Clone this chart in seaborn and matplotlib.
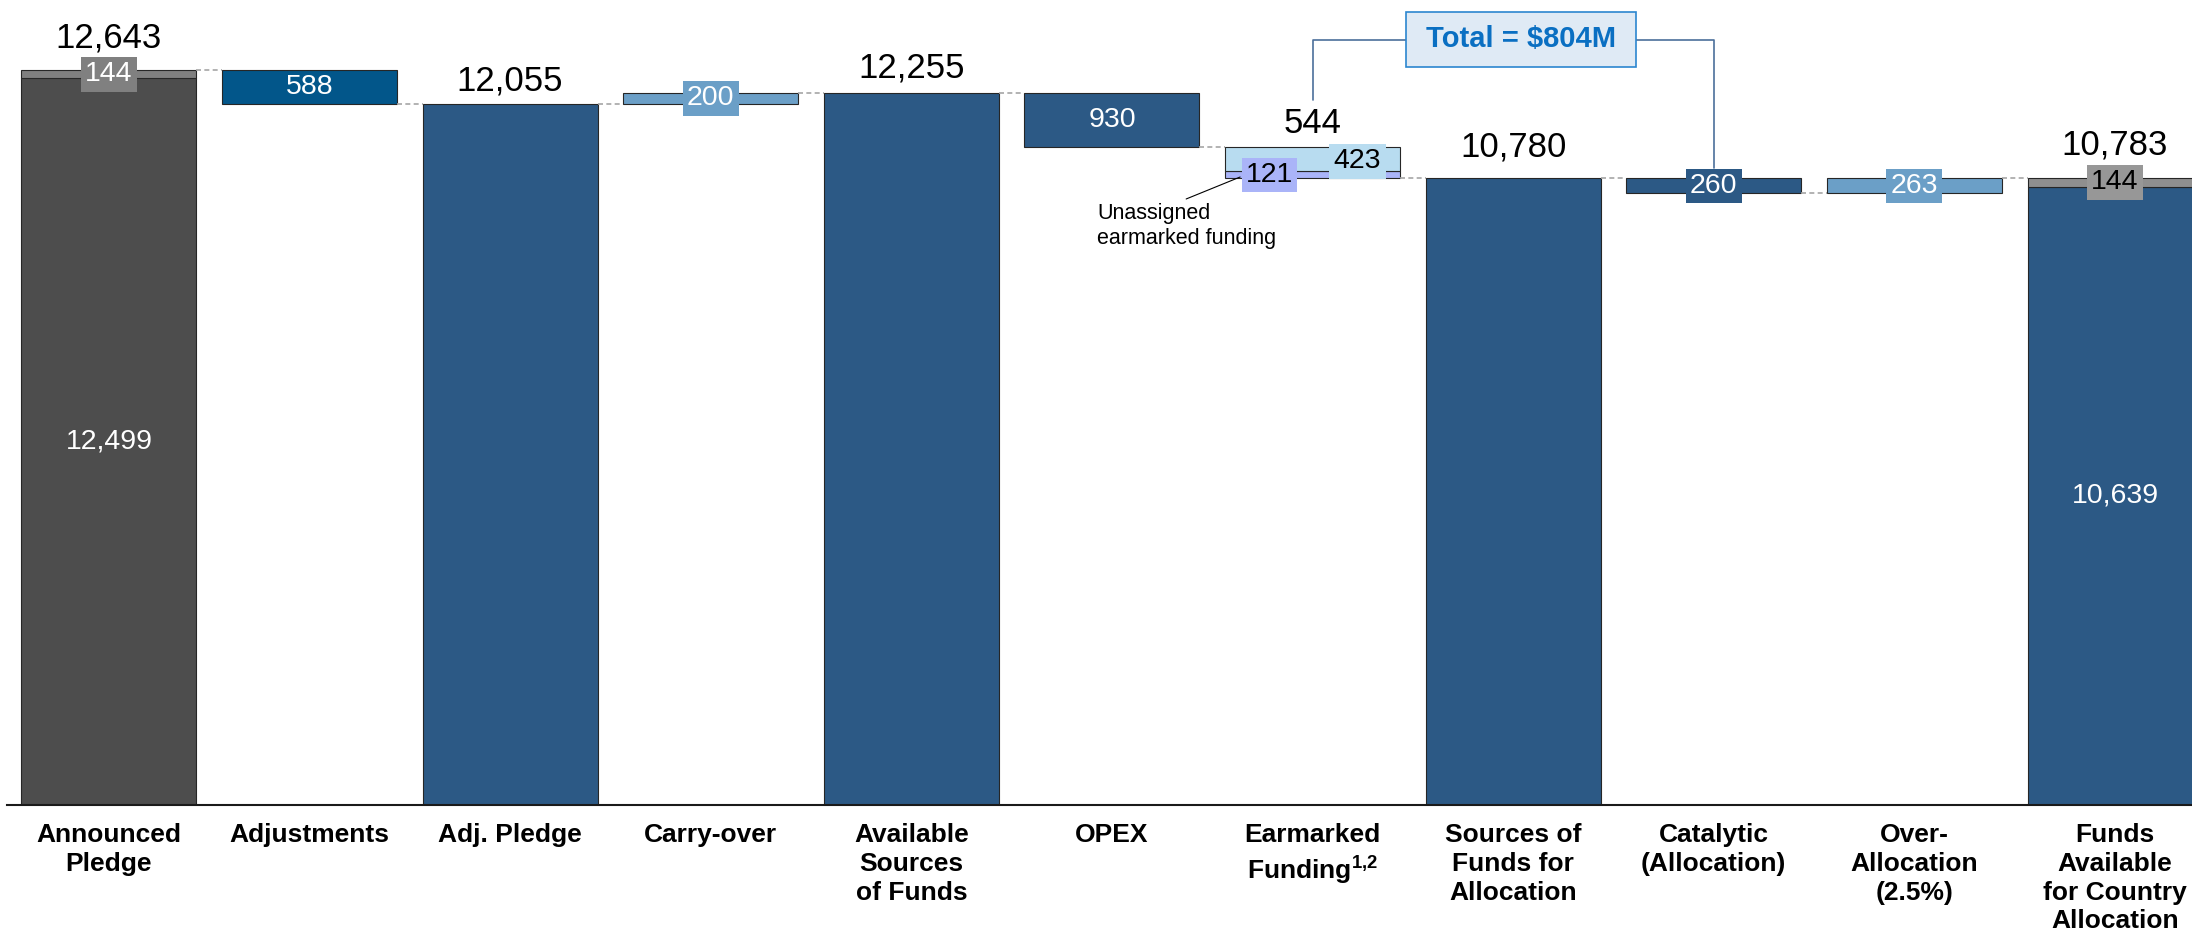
import pandas as pd
import matplotlib
matplotlib.use("Agg")
import matplotlib.pyplot as plt
from matplotlib.patches import Rectangle
import seaborn as sns

sns.set_theme(style="white")
plt.rcParams["font.family"] = ["Liberation Sans", "DejaVu Sans"]
plt.rcParams["mathtext.fontset"] = "custom"
plt.rcParams["mathtext.rm"] = "Liberation Sans"
plt.rcParams["mathtext.bf"] = "Liberation Sans:bold"

# -----------------------------
# DATA ($M)
# -----------------------------

steps = ["Announced Pledge", "Adjustments", "Adj. Pledge", "Carry-over",
         "Available Sources of Funds", "OPEX", "Earmarked Funding",
         "Sources of Funds for Allocation", "Catalytic (Allocation)",
         "Over-Allocation (2.5%)", "Funds Available for Country Allocation"]
tick_labels = ["Announced\nPledge", "Adjustments", "Adj. Pledge", "Carry-over",
               "Available\nSources\nof Funds", "OPEX",
               "Earmarked\nFunding$^{\\mathbf{1{,}2}}$",
               "Sources of\nFunds for\nAllocation", "Catalytic\n(Allocation)",
               "Over-\nAllocation\n(2.5%)", "Funds\nAvailable\nfor Country\nAllocation"]
step_kind = ["total", "down", "total", "up", "total", "down", "down",
             "total", "down", "up", "total"]

# lower segment of each bar
bar_bottom = [0, 12055, 0, 12055, 0, 11325, 10780, 0, 10520, 10520, 0]
bar_value = [12499, 588, 12055, 200, 12255, 930, 121, 10780, 260, 263, 10639]

# stacked upper segments
top_steps = ["Announced Pledge", "Earmarked Funding",
             "Funds Available for Country Allocation"]
top_value = [144, 423, 144]

# big labels above bars
sum_steps = ["Announced Pledge", "Adj. Pledge", "Available Sources of Funds",
             "Earmarked Funding", "Sources of Funds for Allocation",
             "Funds Available for Country Allocation"]
sum_value = [12643, 12055, 12255, 544, 10780, 10783]

total_text = "Total = $804M"

# -----------------------------
# STYLE
# -----------------------------

DARK_BLUE = "#2c5985"
MID_BLUE = "#6b9fc7"
base_colors = ["#4d4d4d", "#02568a", DARK_BLUE, MID_BLUE, DARK_BLUE, DARK_BLUE,
               "#aab4f8", DARK_BLUE, DARK_BLUE, MID_BLUE, DARK_BLUE]
top_colors = ["#7f7f7f", "#b8dcf0", "#8f8f8f"]
W = 0.872
EDGE = "#262626"

base_df = pd.DataFrame({"step": steps, "value": bar_value, "bottom": bar_bottom})
top_bottom = [bar_bottom[steps.index(s)] + bar_value[steps.index(s)] for s in top_steps]
top_df = pd.DataFrame({"step": top_steps, "value": top_value, "bottom": top_bottom})

fig = plt.figure(figsize=(21.92, 9.40), dpi=100)
ax = fig.add_axes([7 / 2192, 135 / 940, 1 - 7 / 2192, 805 / 940])

sns.barplot(data=base_df, x="step", y="value", order=steps,
            bottom=base_df["bottom"].to_numpy(), width=W, errorbar=None,
            saturation=1, color=DARK_BLUE, edgecolor=EDGE, linewidth=0.8, ax=ax)
for p, c in zip(ax.patches, base_colors):
    p.set_facecolor(c)

n_before = len(ax.patches)
sns.barplot(data=top_df, x="step", y="value", order=steps,
            bottom=top_df["bottom"].to_numpy(), width=W, errorbar=None,
            saturation=1, color=DARK_BLUE, edgecolor=EDGE, linewidth=0.8, ax=ax)
for p, c in zip(ax.patches[n_before:], top_colors):
    p.set_facecolor(c)

# full height of every bar
full_top = [b + v for b, v in zip(bar_bottom, bar_value)]
for s, v in zip(top_steps, top_value):
    full_top[steps.index(s)] += v

# dashed connectors
for i in range(len(steps) - 1):
    lvl = bar_bottom[i] if step_kind[i] == "down" else full_top[i]
    ax.plot([i + W / 2, i + 1 - W / 2], [lvl, lvl], color="#a6a6a6",
            lw=1.2, ls=(0, (3, 2)), zorder=1)

# labels above bars
sum_offset_px = [23, 14, 15, 14, 22, 24]
for s, v, off in zip(sum_steps, sum_value, sum_offset_px):
    i = steps.index(s)
    ax.annotate(f"{v:,}", xy=(i, full_top[i]), xytext=(0, off * 0.72),
                textcoords="offset points", ha="center", va="baseline",
                fontsize=25, color="black", zorder=5)

# inner labels
IN_FS = 20.5


def inner(i, y, text, color="white", box=None, dx=0.0):
    kw = {}
    if box is not None:
        kw["bbox"] = dict(boxstyle="square,pad=0.15", fc=box, ec="none")
    ax.text(i + dx, y, text, ha="center", va="center", fontsize=IN_FS,
            color=color, zorder=6, **kw)


box_for = {"Carry-over": MID_BLUE, "Over-Allocation (2.5%)": MID_BLUE,
           "Catalytic (Allocation)": DARK_BLUE}
for i, (b, v) in enumerate(zip(bar_bottom, bar_value)):
    # plain totals carry only the label above the bar
    if steps[i] == "Earmarked Funding":
        continue
    if step_kind[i] == "total" and steps[i] not in top_steps:
        continue
    inner(i, b + v / 2, f"{v:,}", box=box_for.get(steps[i]))

i_a = steps.index("Announced Pledge")
inner(i_a, top_bottom[0] + top_value[0] / 2, f"{top_value[0]:,}", box="#808080")
i_f = steps.index("Funds Available for Country Allocation")
inner(i_f, top_bottom[2] + top_value[2] / 2, f"{top_value[2]:,}",
      color="black", box="#979797")
i_e = steps.index("Earmarked Funding")
inner(i_e, bar_bottom[i_e] + bar_value[i_e] / 2, f"{bar_value[i_e]:,}",
      color="black", box="#aab4f8", dx=-0.215)
inner(i_e, top_bottom[1] + top_value[1] / 2 - 40, f"{top_value[1]:,}",
      color="black", box="#b8dcf0", dx=0.224)

# unassigned earmarked funding note
ax.plot([i_e - 0.361, i_e - 0.63], [10803, 10425], color="black", lw=0.8, zorder=4)
ax.text(i_e - 1.074, 9960, "Unassigned\nearmarked funding", ha="left",
        va="center", fontsize=15.5, linespacing=1.2, color="black")

# total bracket
i_c = steps.index("Catalytic (Allocation)")
BR = "#4c6f9b"
ax.plot([i_e, i_e, i_e + 0.467], [12128, 13160, 13160], color=BR, lw=1.2,
        clip_on=False, zorder=2)
ax.plot([i_e + 1.613, i_c, i_c], [13160, 13160, 10958], color=BR, lw=1.2,
        clip_on=False, zorder=2)
ax.add_patch(Rectangle((i_e + 0.467, 12696), 1.146, 946, facecolor="#dfeaf5",
                       edgecolor="#2b86cf", lw=1.2, clip_on=False, zorder=3))
ax.text(i_e + 1.04, 13169, total_text, ha="center", va="center", fontsize=21,
        fontweight="bold", color="#0a6fc2", zorder=4)

# axes
ax.set_xlim(-0.508, 10.384)
ax.set_ylim(0, 13848)
ax.set_yticks([])
ax.set_xlabel("")
ax.set_ylabel("")
ax.set_xticks(range(len(steps)), tick_labels, fontsize=19, fontweight="bold",
              linespacing=1.25, color="black")
ax.tick_params(axis="x", length=0, pad=13, labelcolor="black")
for side in ["left", "top", "right"]:
    ax.spines[side].set_visible(False)
ax.spines["bottom"].set_color("#1a1a1a")
ax.spines["bottom"].set_linewidth(1.5)
ax.grid(False)

fig.savefig("out.png", dpi=100)
